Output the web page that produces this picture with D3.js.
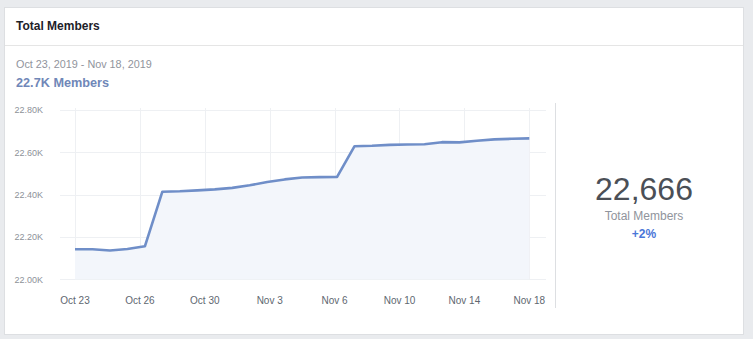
<!DOCTYPE html>
<html>
<head>
<meta charset="utf-8">
<script src="https://cdn.jsdelivr.net/npm/d3@7"></script>
<style>
  html, body { margin: 0; padding: 0; background: #e9ebee; }
  svg { display: block; font-family: "Liberation Sans", Arial, Helvetica, sans-serif; }
</style>
</head>
<body>
<svg id="chart" width="753" height="339"></svg>
<script>
// ---- data ----
const dates = [
  "2019-10-23","2019-10-24","2019-10-25","2019-10-26","2019-10-27","2019-10-28","2019-10-29",
  "2019-10-30","2019-10-31","2019-11-01","2019-11-02","2019-11-03","2019-11-04","2019-11-05",
  "2019-11-06","2019-11-07","2019-11-08","2019-11-09","2019-11-10","2019-11-11","2019-11-12",
  "2019-11-13","2019-11-14","2019-11-15","2019-11-16","2019-11-17","2019-11-18"
];
const members = [
  22142, 22142, 22136, 22143, 22156, 22414, 22416,
  22420, 22425, 22432, 22444, 22460, 22472, 22481,
  22483, 22484, 22629, 22631, 22635, 22637, 22638,
  22648, 22647, 22655, 22661, 22664, 22666
];
const yTicks = [22000, 22200, 22400, 22600, 22800];
const xTickCount = 8;
const title = "Total Members";
const rangeLabel = "Oct 23, 2019 - Nov 18, 2019";
const summaryLabel = "22.7K Members";
const totalValue = "22,666";
const totalLabel = "Total Members";
const changeLabel = "+2%";

// ---- drawing ----
const parse = d3.utcParse("%Y-%m-%d");
const data = dates.map((d, i) => ({ date: parse(d), value: members[i] }));

const svg = d3.select("#chart");

// card
svg.append("rect").attr("x", 4.5).attr("y", 7.5).attr("width", 739).attr("height", 327)
  .attr("fill", "#fff").attr("stroke", "#dddfe2");
svg.append("line").attr("x1", 5).attr("x2", 743).attr("y1", 45.5).attr("y2", 45.5)
  .attr("stroke", "#e5e5e5");

svg.append("text").attr("x", 16).attr("y", 30).text(title)
  .attr("font-size", 12).attr("font-weight", "bold").attr("fill", "#1d2129");
svg.append("text").attr("x", 16).attr("y", 68).text(rangeLabel)
  .attr("font-size", 10.8).attr("fill", "#90949c");
svg.append("text").attr("x", 16).attr("y", 86.5).text(summaryLabel)
  .attr("font-size", 12.7).attr("font-weight", "bold").attr("fill", "#7087b8");

// scales
const x = d3.scaleUtc()
  .domain(d3.extent(data, d => d.date))
  .range([75, 529.3]);
const y = d3.scaleLinear()
  .domain([yTicks[0], yTicks[yTicks.length - 1]])
  .range([279.3, 110]);

const [d0, d1] = x.domain();
const xTicks = d3.range(xTickCount).map(k => new Date(+d0 + k * (d1 - d0) / (xTickCount - 1)));
const fmtX = d3.utcFormat("%b %-d");
const fmtY = v => d3.format(".2f")(v / 1000) + "K";

// horizontal grid
svg.append("g").selectAll("line").data(yTicks).join("line")
  .attr("x1", 60).attr("x2", 546)
  .attr("y1", d => Math.round(y(d)) + 0.5).attr("y2", d => Math.round(y(d)) + 0.5)
  .attr("stroke", "#eef0f3");
// vertical grid
svg.append("g").selectAll("line").data(xTicks).join("line")
  .attr("x1", d => Math.round(x(d)) + 0.5).attr("x2", d => Math.round(x(d)) + 0.5)
  .attr("y1", 108).attr("y2", 279)
  .attr("stroke", "#eef0f3");

// y labels
svg.append("g").selectAll("text").data(yTicks).join("text")
  .attr("x", 43).attr("y", d => y(d) + 3.2)
  .attr("text-anchor", "end")
  .attr("font-size", 9).attr("fill", "#8d9199")
  .text(fmtY);

// x labels
svg.append("g").selectAll("text").data(xTicks).join("text")
  .attr("x", d => x(d)).attr("y", 304)
  .attr("text-anchor", "middle")
  .attr("font-size", 10).attr("fill", "#606770")
  .text(fmtX);

// area + line
const area = d3.area().x(d => x(d.date)).y0(y(yTicks[0])).y1(d => y(d.value));
const line = d3.line().x(d => x(d.date)).y(d => y(d.value));
svg.append("path").datum(data).attr("d", area).attr("fill", "#f3f6fb");
svg.append("path").datum(data).attr("d", line)
  .attr("fill", "none").attr("stroke", "#6f8ec8").attr("stroke-width", 2.6)
  .attr("stroke-linejoin", "round");

// separator
svg.append("line").attr("x1", 555.5).attr("x2", 555.5).attr("y1", 103).attr("y2", 308)
  .attr("stroke", "#dddfe2");

// summary
svg.append("text").attr("x", 644).attr("y", 200).attr("text-anchor", "middle")
  .attr("font-size", 32).attr("fill", "#4b4f56").text(totalValue);
svg.append("text").attr("x", 644).attr("y", 220).attr("text-anchor", "middle")
  .attr("font-size", 12).attr("fill", "#90949c").text(totalLabel);
svg.append("text").attr("x", 644).attr("y", 237.5).attr("text-anchor", "middle")
  .attr("font-size", 12).attr("font-weight", "bold").attr("fill", "#4a76d8").text(changeLabel);
</script>
</body>
</html>
